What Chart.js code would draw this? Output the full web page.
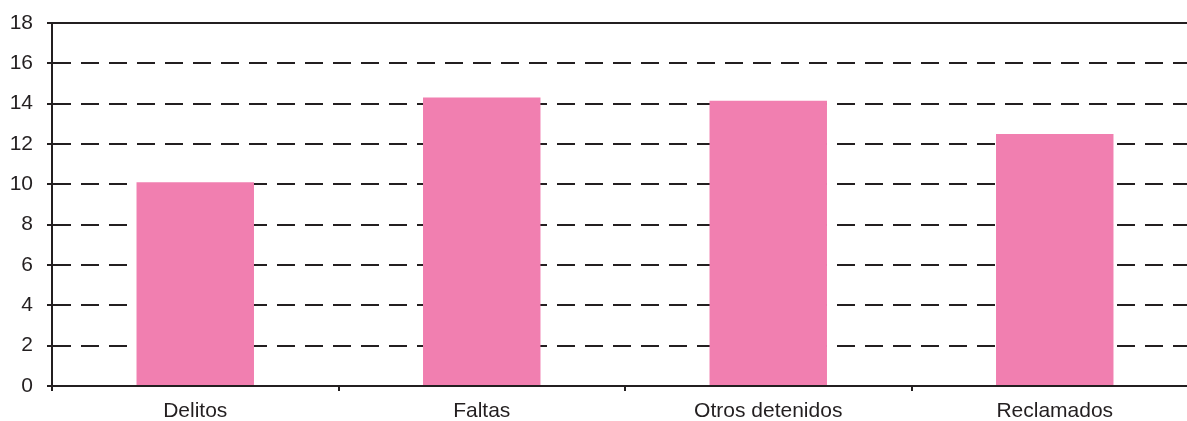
<!DOCTYPE html>
<html>
<head>
<meta charset="utf-8">
<script src="https://cdn.jsdelivr.net/npm/chart.js@4/dist/chart.umd.min.js"></script>
<style>
  html, body { margin: 0; padding: 0; background: #fff; overflow: hidden; }
  #wrap { width: 1187px; height: 421px; position: relative; overflow: hidden; }
  #c { position: absolute; left: 0; top: 0; }
</style>
</head>
<body>
<div id="wrap"><canvas id="c" width="1198" height="421"></canvas></div>
<script>
const categories = ["Delitos", "Faltas", "Otros detenidos", "Reclamados"];
const values = [10.1, 14.3, 14.15, 12.5];
const yMin = 0;
const yMax = 18;
const yStep = 2;

const ink = "#231f20";
const pink = "#f17fb0";

const chart = new Chart(document.getElementById("c"), {
  type: "bar",
  data: {
    labels: categories,
    datasets: [{
      data: values,
      backgroundColor: pink,
      borderWidth: 0,
      barPercentage: 0.41,
      categoryPercentage: 1.0
    }]
  },
  options: {
    responsive: false,
    animation: false,
    devicePixelRatio: 1,
    layout: { padding: { top: 23, right: 0, left: 0, bottom: 0 } },
    plugins: { legend: { display: false }, tooltip: { enabled: false } },
    scales: {
      x: {
        position: "bottom",
        offset: true,
        grid: {
          display: true,
          offset: true,
          drawOnChartArea: false,
          drawTicks: true,
          tickLength: 5,
          tickWidth: 2,
          tickColor: ink,
          color: ink,
          lineWidth: 2
        },
        border: { display: true, color: ink, width: 2 },
        ticks: {
          color: ink,
          padding: 8,
          font: { family: "'Liberation Sans', Arial, sans-serif", size: 21 },
          maxRotation: 0
        },
        afterFit: (s) => { s.height = 35; }
      },
      xTop: {
        position: "top",
        offset: true,
        grid: { display: false, drawTicks: false },
        border: { display: true, color: ink, width: 2 },
        ticks: { display: false },
        afterFit: (s) => { s.height = 0; s.paddingTop = 0; s.paddingBottom = 0; }
      },
      y: {
        min: yMin,
        max: yMax,
        grid: {
          display: true,
          color: ink,
          lineWidth: 2,
          drawTicks: true,
          tickLength: 5,
          tickColor: ink,
          tickWidth: 2
        },
        border: { display: true, color: ink, width: 2, dash: [18, 10] },
        ticks: {
          stepSize: yStep,
          color: ink,
          padding: 14,
          font: { family: "'Liberation Sans', Arial, sans-serif", size: 21 }
        },
        afterFit: (s) => { s.width = 52; s.paddingTop = 0; s.paddingBottom = 0; }
      }
    }
  }
});
</script>
</body>
</html>
